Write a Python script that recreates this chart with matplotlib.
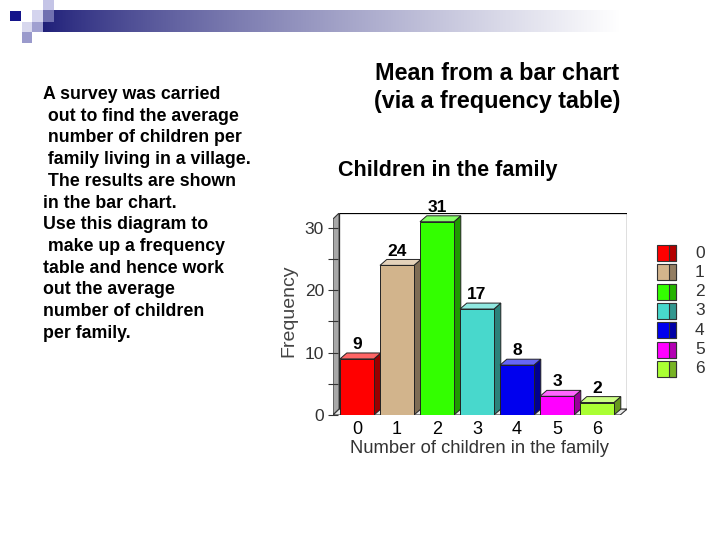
#!/usr/bin/env python3
"""Slide: mean from a bar chart (children per family)."""

import matplotlib
import numpy as np

matplotlib.use("Agg")
import matplotlib.pyplot as plt
from matplotlib import colors as mcolors
from matplotlib.patches import Polygon, Rectangle

plt.rcParams["font.family"] = ["Liberation Sans", "DejaVu Sans"]

children = [0, 1, 2, 3, 4, 5, 6]
frequency = [9, 24, 31, 17, 8, 3, 2]
bar_colors = ["#ff0000", "#d2b48c", "#33ff00", "#48d8cc", "#0000ee", "#ff00ff", "#aaff33"]
y_ticks = [0, 10, 20, 30]

slide_title = ["Mean from a bar chart", "(via a frequency table)"]
chart_title = "Children in the family"
x_label = "Number of children in the family"
y_label = "Frequency"
body_lines = [
    "A survey was carried",
    " out to find the average",
    " number of children per",
    " family living in a village.",
    " The results are shown",
    "in the bar chart.",
    "Use this diagram to",
    " make up a frequency",
    "table and hence work",
    "out the average",
    "number of children",
    "per family.",
]

W, H = 720, 540
DX, DY = 0.17, 0.95  # 3-D depth in data units


def shade(color, factor):
    rgb = np.array(mcolors.to_rgb(color))
    if factor < 1:
        return tuple(rgb * factor)
    return tuple(rgb + (1 - rgb) * (factor - 1))


fig = plt.figure(figsize=(7.2, 5.4), dpi=100)

# slide background layer in pixel coordinates
bg = fig.add_axes([0, 0, 1, 1], zorder=0)
bg.set_xlim(0, W)
bg.set_ylim(H, 0)
bg.axis("off")

grad = np.linspace(0, 1, 400) ** 0.8
navy = np.array(mcolors.to_rgb("#1e1e78"))
row = navy[None, :] * (1 - grad[:, None]) + grad[:, None]
bg.imshow(row[None, :, :], extent=(43, 620, 32, 10), aspect="auto", zorder=1)
for (x0, y0, w, h, c) in [
    (10, 11, 11, 10, "#14148a"),
    (32, 10, 11, 12, "#d4d4ee"),
    (43, 0, 11, 10, "#c4c4e6"),
    (43, 10, 11, 12, "#7070b0"),
    (22, 22, 10, 10, "#d8d8ee"),
    (32, 22, 11, 10, "#a0a0d0"),
    (22, 32, 10, 11, "#9a9acc"),
]:
    bg.add_patch(Rectangle((x0, y0), w, h, facecolor=c, edgecolor="none", zorder=2))

bg.text(497, 80, slide_title[0], ha="center", va="baseline", fontsize=16.8, fontweight="bold")
bg.text(497, 108, slide_title[1], ha="center", va="baseline", fontsize=16.8, fontweight="bold")
for i, line in enumerate(body_lines):
    bg.text(43, 99 + 21.7 * i, line, ha="left", va="baseline", fontsize=12.8, fontweight="bold")

bg.text(448, 176, chart_title, ha="center", va="baseline", fontsize=15.5, fontweight="bold")

# legend
for i, (cat, col) in enumerate(zip(children, bar_colors)):
    y0 = 245 + 19.3 * i
    bg.add_patch(Rectangle((657, y0), 19, 16, facecolor=col, edgecolor="#333333", lw=0.8))
    bg.add_patch(Rectangle((669, y0), 7, 16, facecolor=shade(col, 0.7), edgecolor="#333333", lw=0.8))
    bg.text(695, y0 + 8, str(cat), ha="left", va="center", fontsize=12.5, color="#333333")

# chart
ax = fig.add_axes([333 / W, 1 - 415 / H, 294 / W, 202 / H], zorder=2)
ax.patch.set_alpha(0)
xmin, xmax, ymax = -0.6, 6.75, 32.4
ax.set_xlim(xmin, xmax)
ax.set_ylim(0, ymax)
for s in ax.spines.values():
    s.set_visible(False)

ax.add_patch(Rectangle((xmin + DX * 0.9, DY), xmax - xmin - DX * 0.9, ymax - DY,
                       facecolor="white", edgecolor="black", lw=0.9, zorder=0))
ax.add_patch(Polygon([(xmin, 0), (xmin, ymax - DY), (xmin + DX * 0.9, ymax), (xmin + DX * 0.9, DY)],
                     facecolor="#a8a8a8", edgecolor="#333333", lw=0.8, zorder=1))
ax.add_patch(Polygon([(xmin, 0), (xmax - DX, 0), (xmax, DY), (xmin + DX * 0.9, DY)],
                     facecolor="#e8e8e8", edgecolor="#333333", lw=0.8, zorder=1))

width = 0.85
bars = ax.bar(children, frequency, width=width, color=bar_colors, edgecolor="#222222",
              lw=0.7, zorder=3)
for rect, col, val in zip(bars, bar_colors, frequency):
    x0 = rect.get_x()
    x1 = x0 + rect.get_width()
    ax.add_patch(Polygon([(x1, 0), (x1 + DX, DY), (x1 + DX, val + DY), (x1, val)],
                         facecolor=shade(col, 0.6), edgecolor="#222222", lw=0.7, zorder=2))
    ax.add_patch(Polygon([(x0, val), (x0 + DX, val + DY), (x1 + DX, val + DY), (x1, val)],
                         facecolor=shade(col, 1.4), edgecolor="#222222", lw=0.7, zorder=2))
    ax.text(rect.get_x() + width / 2, val + DY + 0.15, str(val), ha="center", va="bottom",
            fontsize=12.5, fontweight="bold", zorder=4)

ax.set_yticks(y_ticks)
ax.set_yticks([5, 15, 25], minor=True)
ax.tick_params(axis="y", which="both", direction="inout", length=7, width=0.8,
               colors="#333333", labelsize=12.5, pad=3)
ax.set_xticks(children)
ax.set_xticklabels([str(c) for c in children])
ax.tick_params(axis="x", length=0, labelsize=13, pad=4)
ax.set_xlabel(x_label, fontsize=13.2, color="#333333", labelpad=1.5)
ax.set_ylabel(y_label, fontsize=14, color="#444444")
ax.yaxis.set_label_coords(-0.12, 0.515)

fig.savefig("out.png", dpi=100)
